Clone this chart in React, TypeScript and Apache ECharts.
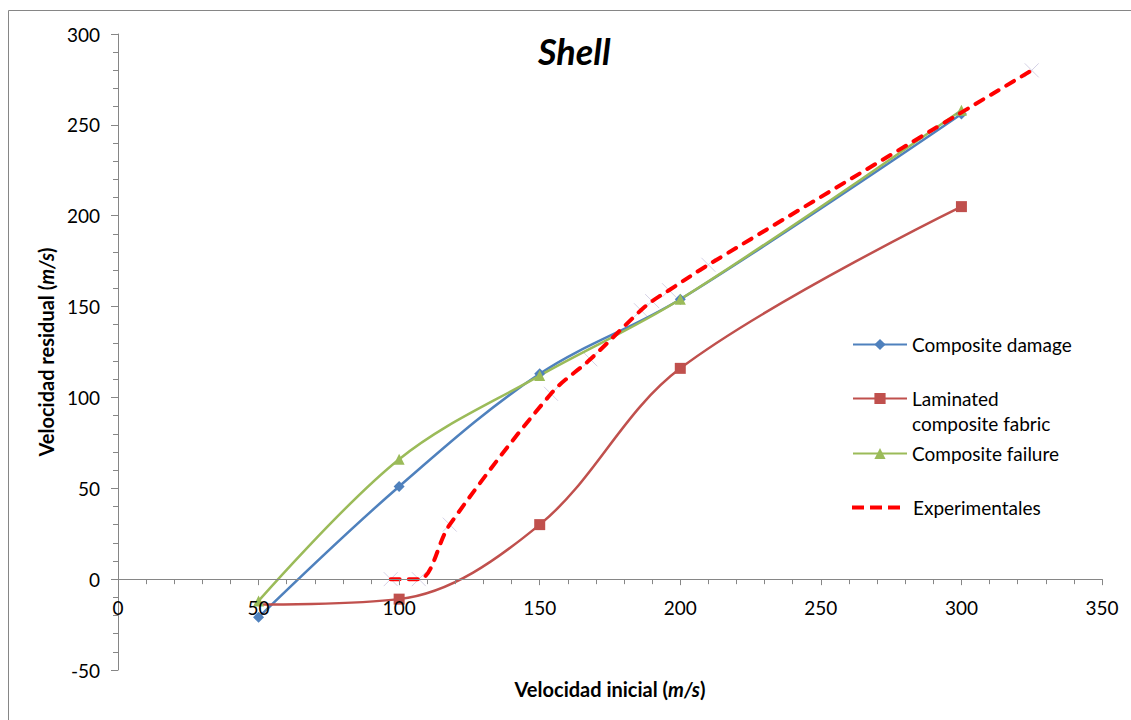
import React, { useEffect, useRef } from "react";
import * as echarts from "echarts";

const simX = [50, 100, 150, 200, 300];
const compositeDamage = [-21, 51, 113, 154, 256];
const laminatedFabric = [-14, -11, 30, 116, 205];
const compositeFailure = [-12, 66, 112, 154, 258];
const expX = [97, 107, 118, 154, 168, 186, 190, 196, 210, 325];
const expY = [0, 0, 30, 102, 121, 148, 153, 159, 173, 280];

const X_MIN = 0, X_MAX = 350, X_STEP = 50;
const Y_MIN = -50, Y_MAX = 300, Y_STEP = 50;

const FONT = "Lato, 'Open Sans', sans-serif";
const AXIS_COLOR = "#868686";

const W = 1131, H = 720;
const GRID = { left: 118, right: 29, top: 34, bottom: 50 };

const pairs = (xs: number[], ys: number[]) => xs.map((x, i) => [x, ys[i]]);

export default function App() {
  const ref = useRef<HTMLDivElement>(null);
  useEffect(() => {
    if (!ref.current) return;
    const chart = echarts.init(ref.current, null, { renderer: "svg" });
    const plotH = H - GRID.top - GRID.bottom;
    const zeroOffset = -((0 - Y_MIN) / (Y_MAX - Y_MIN)) * plotH;
    const textStyle = { fontFamily: FONT, fontSize: 19, color: "#000" };
    const legendBase = {
      orient: "vertical",
      left: 852,
      itemWidth: 54,
      itemHeight: 14,
      padding: 0,
      itemGap: 0,
      textStyle,
    };
    const rich = {
      b: { fontFamily: FONT, fontSize: 20, fontWeight: "bold", color: "#000" },
      i: { fontFamily: FONT, fontSize: 20, fontWeight: "bold", fontStyle: "italic", color: "#000" },
    };
    const laminatedData = pairs(simX, laminatedFabric).map((p, i) =>
      i === 0 ? { value: p, symbol: "none" } : p
    );
    chart.setOption({
      animation: false,
      backgroundColor: "#fff",
      title: {
        text: "Shell",
        left: 538,
        top: 33,
        padding: 0,
        textStyle: { fontFamily: FONT, fontSize: 36, fontWeight: "bold", fontStyle: "italic", color: "#000" },
      },
      graphic: [
        {
          type: "rect",
          shape: { x: 8.5, y: 10.5, width: 1200, height: 800 },
          style: { fill: "none", stroke: AXIS_COLOR, lineWidth: 1 },
          silent: true,
        },
      ],
      legend: [
        { ...legendBase, top: 345 - 10, data: ["Composite damage"] },
        {
          ...legendBase,
          top: 399 - 38,
          data: ["Laminated composite fabric"],
          formatter: () => "\nLaminated\ncomposite fabric",
          textStyle: { ...textStyle, lineHeight: 25 },
        },
        { ...legendBase, top: 454 - 10, data: ["Composite failure"] },
        {
          ...legendBase,
          top: 508 - 10,
          itemWidth: 48,
          itemHeight: 4,
          data: [
            {
              name: "Experimentales",
              icon: "path://M0,0h12v4h-12z M18,0h12v4h-12z M36,0h12v4h-12z",
              itemStyle: { color: "#FF0000" },
            },
          ],
          textStyle: { ...textStyle, padding: [0, 0, 0, 8] },
        },
      ],
      grid: { ...GRID, containLabel: false, outerBoundsMode: "none" },
      xAxis: {
        type: "value",
        min: X_MIN,
        max: X_MAX,
        interval: X_STEP,
        position: "bottom",
        offset: zeroOffset,
        z: 5,
        name: "{b|Velocidad inicial (}{i|m/s}{b|)}",
        nameLocation: "middle",
        nameGap: 100,
        nameTextStyle: { rich },
        axisLine: { show: true, onZero: false, lineStyle: { color: AXIS_COLOR, width: 1 } },
        axisTick: { show: true, length: 6, lineStyle: { color: AXIS_COLOR } },
        minorTick: { show: true, splitNumber: 5, length: 5, lineStyle: { color: AXIS_COLOR } },
        splitLine: { show: false },
        axisLabel: { ...textStyle, margin: 19 },
      },
      yAxis: {
        type: "value",
        min: Y_MIN,
        max: Y_MAX,
        interval: Y_STEP,
        name: "{b|Velocidad residual (}{i|m/s}{b|)}",
        nameLocation: "middle",
        nameGap: 62,
        nameTextStyle: { rich },
        axisLine: { show: true, onZero: false, lineStyle: { color: AXIS_COLOR, width: 1 } },
        axisTick: { show: true, length: 7, lineStyle: { color: AXIS_COLOR } },
        minorTick: { show: true, splitNumber: 5, length: 5, lineStyle: { color: AXIS_COLOR } },
        splitLine: { show: false },
        axisLabel: { ...textStyle, margin: 18 },
      },
      series: [
        {
          name: "Experimentales points",
          type: "scatter",
          data: pairs(expX, expY),
          symbol: "path://M0,0L10,10M10,0L0,10",
          symbolSize: 14,
          itemStyle: { color: "none", borderColor: "#c9c6df", borderWidth: 1 },
          silent: true,
          z: 1,
        },
        {
          name: "Composite damage",
          type: "line",
          smooth: 0.35,
          data: pairs(simX, compositeDamage),
          symbol: "diamond",
          symbolSize: 11,
          lineStyle: { color: "#4F81BD", width: 2.5 },
          itemStyle: { color: "#4F81BD" },
          z: 3,
        },
        {
          name: "Laminated composite fabric",
          type: "line",
          smooth: 0.35,
          data: laminatedData,
          symbol: "rect",
          symbolSize: 11,
          lineStyle: { color: "#C0504D", width: 2.5 },
          itemStyle: { color: "#C0504D" },
          z: 3,
        },
        {
          name: "Composite failure",
          type: "line",
          smooth: 0.35,
          data: pairs(simX, compositeFailure),
          symbol: "triangle",
          symbolSize: 11,
          lineStyle: { color: "#9BBB59", width: 2.5 },
          itemStyle: { color: "#9BBB59" },
          z: 3,
        },
        {
          name: "Experimentales",
          type: "line",
          smooth: 0.35,
          data: pairs(expX, expY),
          symbol: "none",
          lineStyle: { color: "#FF0000", width: 4, type: [9, 9], cap: "round" },
          itemStyle: { color: "#FF0000" },
          z: 4,
        },
      ],
    });
    return () => chart.dispose();
  }, []);
  return (
    <div
      ref={ref}
      style={{ position: "fixed", left: 0, top: 0, width: W, height: H }}
    />
  );
}
